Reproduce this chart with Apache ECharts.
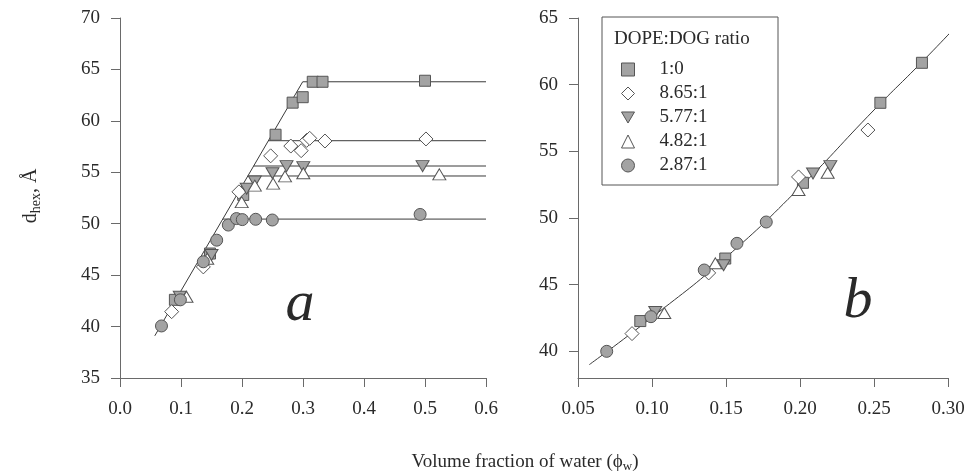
<!DOCTYPE html>
<html><head><meta charset="utf-8">
<script src="https://cdn.jsdelivr.net/npm/echarts@6/dist/echarts.min.js"></script>
<style>html,body{margin:0;padding:0;background:#fff}#c{width:980px;height:473px}</style>
</head><body><div id="c"></div>
<script>
// ---- data (panel a) ----
const seriesNames = ['1:0', '8.65:1', '5.77:1', '4.82:1', '2.87:1'];
const a_sq = [[0.090,42.6],[0.1475,47.1],[0.202,52.8],[0.255,58.65],[0.283,61.77],[0.2995,62.3],[0.316,63.8],[0.332,63.8],[0.50,63.9]];
const a_di = [[0.0847,41.45],[0.1366,45.8],[0.195,53.1],[0.247,56.6],[0.280,57.55],[0.297,57.1],[0.306,58.1],[0.311,58.3],[0.336,58.04],[0.5016,58.24]];
const a_td = [[0.098,42.9],[0.150,46.96],[0.2077,53.4],[0.221,54.1],[0.250,54.9],[0.273,55.6],[0.3005,55.5],[0.496,55.6]];
const a_tu = [[0.109,42.9],[0.143,46.6],[0.1995,52.1],[0.221,53.7],[0.251,53.9],[0.2705,54.6],[0.3005,54.9],[0.5235,54.8]];
const a_ci = [[0.068,40.06],[0.099,42.6],[0.1366,46.3],[0.1585,48.4],[0.1776,49.87],[0.191,50.5],[0.2005,50.4],[0.2224,50.43],[0.2497,50.36],[0.492,50.9]];
// fitted lines in panel a (sloped line + plateaus)
const a_slope = [[0.057,39.1],[0.2995,63.8]];
const a_plateauY = [63.8, 58.07, 55.61, 54.64, 50.45];
const a_plateauStart = [0.2995, 0.2432, 0.2191, 0.2096, 0.1684];
const a_plateauEnd = 0.6;
// ---- data (panel b) ----
const b_sq = [[0.0921,42.27],[0.1495,46.96],[0.202,52.64],[0.2543,58.64],[0.2824,61.64]];
const b_di = [[0.0865,41.33],[0.1383,45.88],[0.199,53.08],[0.2459,56.6]];
const b_td = [[0.1022,42.95],[0.1484,46.46],[0.2088,53.34],[0.2205,53.89]];
const b_tu = [[0.1083,42.88],[0.1428,46.6],[0.199,52.1],[0.2187,53.39]];
const b_ci = [[0.0694,40.0],[0.0993,42.6],[0.1353,46.1],[0.1574,48.1],[0.1772,49.7]];
const b_curve = [[0.0576,39.0],[0.10,42.55],[0.15,47.05],[0.20,52.3],[0.25,58.1],[0.2824,61.7],[0.31,64.9]];
// ---- ticks ----
const a_xTicks = [0,0.1,0.2,0.3,0.4,0.5,0.6];
const a_yTicks = [35,40,45,50,55,60,65,70];
const b_xTicks = [0.05,0.10,0.15,0.20,0.25,0.30];
const b_yTicks = [40,45,50,55,60,65];

const FONT = 'Liberation Serif';
const AX = '#6a6a6a', TX = '#2a2a2a', GRAY = '#a3a3a3', EDGE = '#555';
const DOWN_TRI = 'path://M0,0L20,0L10,17Z';
const styles = [
  {symbol:'rect', size:11, rot:0, fill:GRAY, icon:'rect'},
  {symbol:'diamond', size:[14,14], rot:0, fill:'#fff', icon:'diamond'},
  {symbol:'triangle', size:[13,11], rot:180, fill:GRAY, icon:DOWN_TRI},
  {symbol:'triangle', size:[13,11], rot:0, fill:'#fff', icon:'triangle'},
  {symbol:'circle', size:12, rot:0, fill:GRAY, icon:'circle'}
];
const aSets = [a_sq,a_di,a_td,a_tu,a_ci];
const bSets = [b_sq,b_di,b_td,b_tu,b_ci];

function axisCommon(){
  return {
    axisLine:{show:true,onZero:false,lineStyle:{color:AX,width:1}},
    axisTick:{show:true,inside:false,length:9,lineStyle:{color:AX}},
    splitLine:{show:false},
    axisLabel:{color:TX,fontFamily:FONT,fontSize:19,margin:20}
  };
}
const xA = Object.assign(axisCommon(),{type:'value',gridIndex:0,min:0,max:0.6,interval:0.1});
xA.axisLabel = Object.assign({},xA.axisLabel,{margin:22,formatter:v=>v.toFixed(1)});
const yA = Object.assign(axisCommon(),{type:'value',gridIndex:0,min:35,max:70,interval:5});
const xB = Object.assign(axisCommon(),{type:'value',gridIndex:1,min:0.05,max:0.30,interval:0.05});
xB.axisLabel = Object.assign({},xB.axisLabel,{margin:22,formatter:v=>v.toFixed(2)});
const yB = Object.assign(axisCommon(),{type:'value',gridIndex:1,min:38,max:65});
yB.axisLabel = Object.assign({},yB.axisLabel,{customValues:b_yTicks});
yB.axisTick = Object.assign({},yB.axisTick,{customValues:b_yTicks});

const series = [];
const lineStyle = {color:'#3a3a3a',width:1};
series.push({type:'line',xAxisIndex:0,yAxisIndex:0,data:a_slope,symbol:'none',silent:true,lineStyle,z:1});
a_plateauY.forEach((y,i)=>{
  series.push({type:'line',xAxisIndex:0,yAxisIndex:0,data:[[a_plateauStart[i],y],[a_plateauEnd,y]],symbol:'none',silent:true,lineStyle,z:1});
});
series.push({type:'line',xAxisIndex:1,yAxisIndex:1,data:b_curve,smooth:true,symbol:'none',silent:true,lineStyle,z:1});
function addScatter(sets,xi){
  sets.forEach((d,i)=>{
    const s = styles[i];
    series.push({type:'scatter',name:seriesNames[i],xAxisIndex:xi,yAxisIndex:xi,data:d,
      symbol:s.symbol,symbolSize:s.size,symbolRotate:s.rot,
      itemStyle:{color:s.fill,borderColor:EDGE,borderWidth:1,opacity:1},z:3});
  });
}
addScatter(aSets,0);
addScatter(bSets,1);

const chart = echarts.init(document.getElementById('c'),null,{renderer:'canvas'});
chart.setOption({
  animation:false,
  backgroundColor:'#fff',
  grid:[
    {left:120,top:18,width:366,height:360},
    {left:578,top:18,width:370,height:360}
  ],
  xAxis:[xA,xB],
  yAxis:[yA,yB],
  legend:{
    data:seriesNames.map((n,i)=>({name:n,icon:styles[i].icon,itemStyle:{color:styles[i].fill,borderColor:EDGE,borderWidth:1}})),
    orient:'vertical', left:616, top:55,
    itemWidth:13, itemHeight:13, itemGap:5,
    textStyle:{fontFamily:FONT,fontSize:19,color:TX,padding:[0,0,0,20]},
    selectedMode:false
  },
  graphic:[
    {type:'rect',shape:{x:602,y:17,width:176,height:168},style:{fill:'none',stroke:'#555',lineWidth:1},z:10},
    {type:'text',x:614,y:39,style:{text:'DOPE:DOG ratio',font:'19px "Liberation Serif"',fill:TX,verticalAlign:'middle'},z:10},
    {type:'text',x:300,y:305,style:{text:'a',font:'italic 58px "Liberation Serif"',fill:TX,align:'center',verticalAlign:'middle'},z:10},
    {type:'text',x:858,y:302,style:{text:'b',font:'italic 58px "Liberation Serif"',fill:TX,align:'center',verticalAlign:'middle'},z:10},
    {type:'text',x:525,y:462,style:{text:'{m|Volume fraction of water (ϕ}{s|w}{m|)}',align:'center',verticalAlign:'middle',
      rich:{m:{fontFamily:FONT,fontSize:19,fill:TX,lineHeight:24},s:{fontFamily:FONT,fontSize:13,fill:TX,lineHeight:24,padding:[10,0,0,0]}}},z:10},
    {type:'text',x:31,y:196,rotation:Math.PI/2,style:{text:'{m|d}{s|hex}{m|, Å}',align:'center',verticalAlign:'middle',
      rich:{m:{fontFamily:FONT,fontSize:20,fill:TX,lineHeight:24},s:{fontFamily:FONT,fontSize:14,fill:TX,lineHeight:24,padding:[10,0,0,0]}}},z:10}
  ],
  series
});
</script></body></html>
